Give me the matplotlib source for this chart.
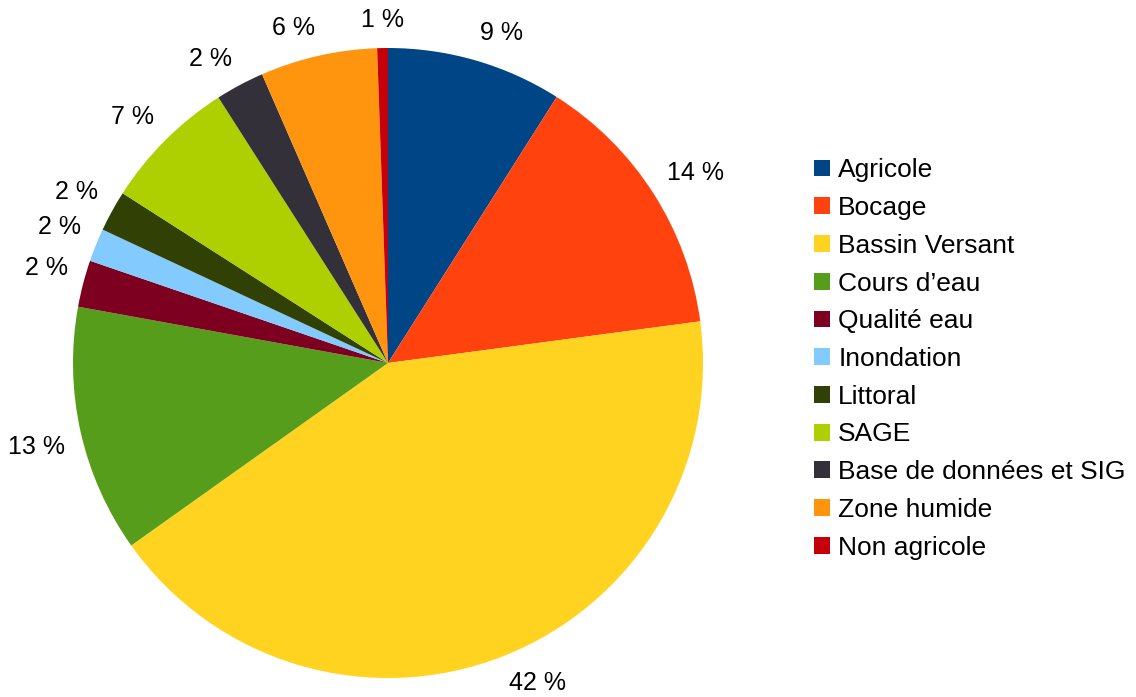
import numpy as np
import matplotlib
matplotlib.use('Agg')
import matplotlib.pyplot as plt
from matplotlib.patches import Patch

plt.rcParams['font.family'] = ['Liberation Sans', 'DejaVu Sans']

categories = ['Agricole', 'Bocage', 'Bassin Versant', "Cours d\u2019eau", 'Qualité eau',
              'Inondation', 'Littoral', 'SAGE', 'Base de données et SIG',
              'Zone humide', 'Non agricole']
values = [9.0, 13.9, 42.3, 12.7, 2.4, 1.7, 2.1, 6.9, 2.5, 6.0, 0.55]
colors = ['#004586', '#ff420e', '#ffd320', '#579d1c', '#7e0021', '#83caff',
          '#314004', '#aecf00', '#34303a', '#ff950e', '#c5000b']

W, H = 1136, 697
fig = plt.figure(figsize=(W / 100, H / 100), dpi=100)

# pie centre (388, 363) px from top-left, radius 315 px
cx, cy, R = 388, H - 363, 315
L = 1.15
S = 2 * L * R
ax = fig.add_axes([(cx - S / 2) / W, (cy - S / 2) / H, S / W, S / H])

wedges, _ = ax.pie(values, colors=colors, startangle=90, counterclock=False,
                   radius=1.0, wedgeprops=dict(linewidth=0))
ax.set_xlim(-L, L)
ax.set_ylim(-L, L)
ax.set_aspect('equal')
ax.axis('off')
for w in wedges:
    w.set_clip_on(False)

# labels: box corner placed on a point just outside the rim (quadrant-based)
renderer = fig.canvas.get_renderer()
for w, v in zip(wedges, values):
    mid = np.deg2rad((w.theta1 + w.theta2) / 2)
    dx, dy = np.cos(mid), np.sin(mid)
    r0 = 1.05
    t = ax.text(r0 * dx, r0 * dy, f'{v:.0f} %', ha='center', va='center',
                fontsize=18, color='black', clip_on=False)
    bb = t.get_window_extent(renderer)
    hw, hh = bb.width / 2 / R, bb.height / 2 / R
    sx = 0 if abs(dx) < 0.1 else np.sign(dx)
    sy = 0 if abs(dy) < 0.1 else np.sign(dy)
    t.set_position((r0 * dx + hw * sx, r0 * dy + hh * sy))

handles = [Patch(facecolor=c, edgecolor='none') for c in colors]
fig.legend(handles, categories, loc='center left',
           bbox_to_anchor=(814 / W, 1 - 359 / H), frameon=False, fontsize=19,
           handlelength=0.6, handleheight=0.6, handletextpad=0.32,
           labelspacing=0.52, borderaxespad=0, borderpad=0)

fig.savefig('out.png', dpi=100)
